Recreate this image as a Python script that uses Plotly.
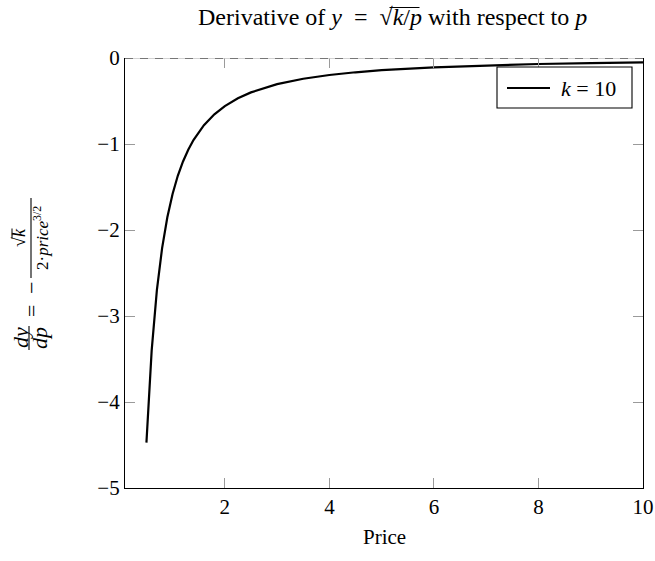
import plotly.graph_objects as go

# ---- data ----
price = [0.5, 0.6, 0.7, 0.8, 0.9, 1.0, 1.1, 1.2, 1.3, 1.4, 1.6, 1.8, 2.0, 2.25, 2.5,
         3.0, 3.5, 4.0, 4.5, 5.0, 6.0, 7.0, 8.0, 9.0, 10.0]
dydp = [-4.472, -3.402, -2.700, -2.210, -1.852, -1.581, -1.370, -1.203, -1.067, -0.954,
        -0.781, -0.655, -0.559, -0.468, -0.400, -0.304, -0.241, -0.198, -0.166, -0.141,
        -0.108, -0.085, -0.070, -0.059, -0.050]
x_ticks = [2, 4, 6, 8, 10]
y_ticks = [0, -1, -2, -3, -4, -5]
series_name = "<i>k</i> = 10"
title_text = "Derivative of <i>y</i>  =  √<i>k</i>/<i>p</i> with respect to <i>p</i>"
x_title = "Price"
x_range = [0.09, 10]
y_range = [-5, 0]

FONT = "Liberation Serif"
W_FIG, H_FIG = 655, 561
L, R, T, B = 125, 643, 58, 488
PW, PH = R - L, B - T


def px(sx):
    return (sx - L) / PW


def py(sy):
    return (B - sy) / PH


fig = go.Figure()
fig.add_trace(go.Scatter(x=price, y=dydp, mode="lines", name=series_name,
                         line=dict(color="black", width=2.2), showlegend=False))
# invisible trace to carry the top tick axis
fig.add_trace(go.Scatter(x=[price[0], price[-1]], y=[dydp[0], dydp[-1]], xaxis="x2",
                         mode="lines", line=dict(width=0), opacity=0,
                         showlegend=False, hoverinfo="skip"))

tickcol = "#9a9a9a"
fig.update_layout(
    width=W_FIG, height=H_FIG, autosize=False,
    margin=dict(l=L, r=W_FIG - R, t=T, b=H_FIG - B, pad=0),
    paper_bgcolor="white", plot_bgcolor="white",
    font=dict(family=FONT, size=21, color="black"),
    showlegend=False,
    xaxis=dict(range=x_range, tickvals=x_ticks, ticks="inside", ticklen=10,
               tickcolor=tickcol, showgrid=False, zeroline=False, automargin=False,
               showline=True, linecolor="black", linewidth=1.3, mirror=False,
               tickfont=dict(family=FONT, size=21)),
    xaxis2=dict(range=x_range, overlaying="x", side="top", tickvals=x_ticks,
                ticks="inside", ticklen=10, tickcolor=tickcol, showticklabels=False,
                showgrid=False, zeroline=False, showline=False, automargin=False),
    yaxis=dict(range=y_range, tickvals=y_ticks, ticks="inside", ticklen=10,
               tickcolor=tickcol, showgrid=False, zeroline=False, automargin=False,
               showline=True, linecolor="black", linewidth=1.3, mirror="ticks",
               tickfont=dict(family=FONT, size=21)),
)

# top edge: light grey line with darker dashes (dashed line at y = 0)
fig.add_shape(type="line", xref="x", yref="y", x0=x_range[0], x1=x_range[1], y0=0, y1=0,
              line=dict(color="#c4c4c4", width=1.3))
fig.add_shape(type="line", xref="x", yref="y", x0=x_range[0], x1=x_range[1], y0=0, y1=0,
              line=dict(color="#5a5a5a", width=1.3, dash="8px,7px"))

ann = []
ann.append(dict(text=title_text, x=px(392), y=py(17), xref="paper", yref="paper",
                showarrow=False, xanchor="center", yanchor="middle",
                font=dict(family=FONT, size=24)))
ann.append(dict(text=x_title, x=px(384), y=py(537), xref="paper", yref="paper",
                showarrow=False, xanchor="center", yanchor="middle",
                font=dict(family=FONT, size=21)))


def rot(text, sx, sy, size):
    ann.append(dict(text=text, x=px(sx), y=py(sy), xref="paper", yref="paper",
                    showarrow=False, xanchor="center", yanchor="middle", textangle=-90,
                    font=dict(family=FONT, size=size)))


# y-axis label built from pieces (rotated)
rot("<i>dy</i>", 20, 338, 22)
rot("<i>dp</i>", 39, 338, 22)
rot("=", 31, 311, 22)
rot("−", 31, 288, 22)
rot("√<i>k</i>", 19, 238, 18)
rot("2·<i>price</i><sup>3/2</sup>", 41, 238, 17)

# legend drawn by hand: box, sample line, label
ann.append(dict(text=series_name, x=px(588), y=py(88), xref="paper", yref="paper",
                showarrow=False, xanchor="center", yanchor="middle",
                font=dict(family=FONT, size=22)))
fig.update_layout(annotations=ann)


def seg(sx0, sy0, sx1, sy1, w=1.1, color="black"):
    fig.add_shape(type="line", xref="paper", yref="paper", x0=px(sx0), x1=px(sx1),
                  y0=py(sy0), y1=py(sy1), line=dict(color=color, width=w))


seg(29, 326, 29, 350)      # dy/dp bar
seg(31, 198, 31, 278)      # sqrt(k)/(...) bar
seg(12, 228.5, 12, 238.5, w=1.0)   # radical overline in the y label
seg(389.5, 7.5, 419.5, 7.5, w=1.0)  # radical overline in the title

fig.add_shape(type="rect", xref="paper", yref="paper", x0=px(497), x1=px(632),
              y0=py(108), y1=py(67), line=dict(color="black", width=1.1),
              fillcolor="white")
seg(507, 88, 550, 88, w=2.2)

fig.write_html("out.html")
